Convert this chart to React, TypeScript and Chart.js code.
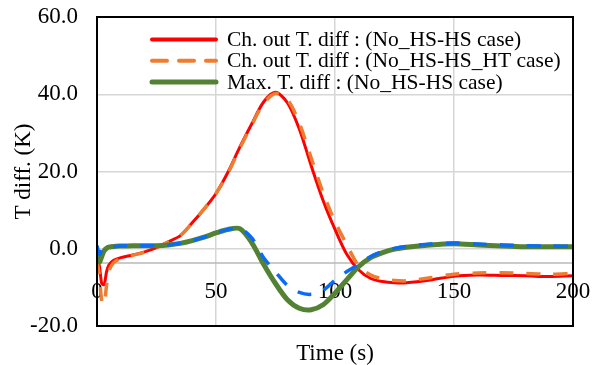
import React, { useEffect, useRef } from 'react';
import { Chart, registerables } from 'chart.js';

Chart.register(...registerables);

// ---- data ----
const time = [0, 1, 2, 3, 4, 5, 7, 10, 15, 20, 25, 30, 35, 40, 45, 50, 55, 60, 65, 70, 75, 80, 85, 90, 95, 100, 105, 110, 115, 120, 125, 130, 140, 150, 160, 170, 180, 190, 200];

const chOutNoHsHs = [-2.5, -4.5, -9.0, -9.3, -6, -4.2, -3, -2.3, -1.6, -0.8, 0.3, 1.8, 3.4, 6.7, 10.3, 14.3, 19.8, 26.3, 32.3, 38, 40.5, 37.8, 31, 21.5, 12.5, 5, -1.5, -5.5, -7.7, -8.5, -8.8, -8.8, -8.1, -7.1, -6.8, -6.9, -7.0, -7.2, -7.0];

const chOutNoHsHsHt = [-3, -7, -13.5, -14.5, -9.5, -5.8, -3.6, -2.5, -1.7, -0.9, 0.3, 1.8, 3.4, 6.7, 10.3, 14.3, 19.5, 26, 32, 37.6, 40.2, 38.6, 32.5, 23.5, 14.5, 7, 1.0, -4.5, -6.8, -7.8, -8.2, -8.3, -7.5, -6.6, -6.3, -6.2, -6.4, -6.6, -6.4];

const maxNoHsHs = [-1, -3.4, -2.0, -0.5, 0.1, 0.4, 0.6, 0.7, 0.8, 0.8, 0.8, 1.0, 1.4, 2.1, 3.0, 4.1, 5.0, 5.2, 1.6, -4.0, -9.0, -13.2, -15.4, -15.8, -14.5, -11.5, -8.0, -4.6, -2.3, -1.0, -0.1, 0.4, 1.0, 1.3, 1.0, 0.7, 0.5, 0.5, 0.5];

const maxNoHsHsHt = [0.8, -1.5, -0.3, 0.3, 0.4, 0.5, 0.6, 0.7, 0.8, 0.8, 0.8, 1.0, 1.4, 2.1, 3.0, 4.1, 5.0, 5.3, 2.8, -2.3, -6.0, -9.5, -11.3, -11.8, -10.8, -8.1, -5.9, -4.0, -2.0, -0.7, 0.1, 0.6, 1.2, 1.5, 1.2, 1.0, 0.8, 0.7, 0.6];

const xTicks = [0, 50, 100, 150, 200];
const legendLabels = [
  'Ch. out T. diff : (No_HS-HS case)',
  'Ch. out T. diff : (No_HS-HS_HT case)',
  'Max. T. diff : (No_HS-HS case)',
];
const axisCross = -3.7;

const FONT = '"Liberation Serif", "Times New Roman", serif';
const RED = '#ff0000';
const ORANGE = '#ed7d31';
const GREEN = '#548235';
const BLUE = '#0a6cf5';

const toPoints = (ys: number[]) => ys.map((y, i) => ({ x: time[i], y }));

const overlayPlugin = {
  id: 'overlay',
  beforeDatasetsDraw(chart: any) {
    const { ctx, chartArea, scales } = chart;
    const xs = scales.x;
    const ys = scales.y;
    const ya = ys.getPixelForValue(axisCross);
    ctx.save();
    ctx.strokeStyle = '#b8b8b8';
    ctx.lineWidth = 1.5;
    ctx.beginPath();
    ctx.moveTo(chartArea.left, ya);
    ctx.lineTo(chartArea.right, ya);
    ctx.stroke();
    ctx.fillStyle = '#000';
    ctx.font = `23px ${FONT}`;
    ctx.textAlign = 'center';
    ctx.textBaseline = 'middle';
    for (const t of xTicks) {
      ctx.fillText(String(t), xs.getPixelForValue(t), ya + 29);
    }
    ctx.restore();
  },
  afterDatasetsDraw(chart: any) {
    const { ctx, chartArea } = chart;
    ctx.save();
    ctx.strokeStyle = '#000';
    ctx.lineWidth = 2;
    ctx.strokeRect(chartArea.left, chartArea.top, chartArea.right - chartArea.left, chartArea.bottom - chartArea.top);
    ctx.restore();
  },
  afterDraw(chart: any) {
    const { ctx } = chart;
    const styles = [
      { color: RED, width: 4, dash: [] as number[] },
      { color: ORANGE, width: 4, dash: [15, 12] },
      { color: GREEN, width: 5, dash: [] as number[] },
    ];
    ctx.save();
    ctx.font = `21.5px ${FONT}`;
    ctx.textAlign = 'left';
    ctx.textBaseline = 'middle';
    legendLabels.forEach((label, i) => {
      const yy = 39.5 + i * 21.2;
      const s = styles[i];
      ctx.strokeStyle = s.color;
      ctx.lineWidth = s.width;
      ctx.lineCap = 'round';
      ctx.setLineDash(s.dash);
      ctx.beginPath();
      ctx.moveTo(152, yy);
      ctx.lineTo(216, yy);
      ctx.stroke();
      ctx.setLineDash([]);
      ctx.fillStyle = '#000';
      ctx.fillText(label, 227, yy + 1);
    });
    ctx.restore();
  },
};

export default function App() {
  const canvasRef = useRef<HTMLCanvasElement | null>(null);

  useEffect(() => {
    document.body.style.margin = '0';
    const canvas = canvasRef.current;
    if (!canvas) return;
    const chart = new Chart(canvas, {
      type: 'line',
      data: {
        datasets: [
          {
            label: legendLabels[0],
            data: toPoints(chOutNoHsHs),
            borderColor: RED,
            borderWidth: 3,
            order: 4,
          },
          {
            label: legendLabels[1],
            data: toPoints(chOutNoHsHsHt),
            borderColor: ORANGE,
            borderWidth: 3.5,
            borderDash: [14, 13],
            order: 3,
          },
          {
            label: legendLabels[2],
            data: toPoints(maxNoHsHs),
            borderColor: GREEN,
            borderWidth: 5,
            order: 2,
          },
          {
            label: 'Max. T. diff : (No_HS-HS_HT case)',
            data: toPoints(maxNoHsHsHt),
            borderColor: BLUE,
            borderWidth: 3.5,
            borderDash: [14, 13],
            order: 1,
          },
        ],
      },
      options: {
        animation: false,
        responsive: true,
        maintainAspectRatio: false,
        parsing: false as any,
        elements: {
          point: { radius: 0 },
          line: { tension: 0.3, fill: false, borderCapStyle: 'butt', borderJoinStyle: 'round' },
        },
        layout: { padding: { top: 17, right: 25, left: 0, bottom: 0 } },
        plugins: {
          legend: { display: false },
          tooltip: { enabled: false },
        },
        scales: {
          x: {
            type: 'linear',
            min: 0,
            max: 200,
            ticks: { display: false, stepSize: 50 },
            grid: { color: '#d6d6d6', lineWidth: 1.5, drawTicks: false },
            border: { display: false },
            title: {
              display: true,
              text: 'Time (s)',
              color: '#000',
              font: { family: FONT, size: 23 },
              padding: { top: 0, bottom: -3 },
            },
            afterFit: (scale: any) => {
              scale.height = 39;
              scale.paddingLeft = 0;
              scale.paddingRight = 0;
            },
          },
          y: {
            type: 'linear',
            min: -20,
            max: 60,
            ticks: {
              stepSize: 20,
              color: '#000',
              font: { family: FONT, size: 23 },
              padding: 19,
              callback: (v: any) => Number(v).toFixed(1),
            },
            grid: { color: '#d6d6d6', lineWidth: 1.5, drawTicks: false },
            border: { display: false },
            title: {
              display: true,
              text: 'T diff. (K)',
              color: '#000',
              font: { family: FONT, size: 23 },
              padding: { top: 10, bottom: 0 },
            },
            afterFit: (scale: any) => {
              scale.width = 97;
              scale.paddingTop = 0;
              scale.paddingBottom = 0;
            },
          },
        },
      },
      plugins: [overlayPlugin],
    });
    return () => chart.destroy();
  }, []);

  return (
    <div style={{ width: 598, height: 365, position: 'relative', background: '#fff' }}>
      <canvas ref={canvasRef} />
    </div>
  );
}
